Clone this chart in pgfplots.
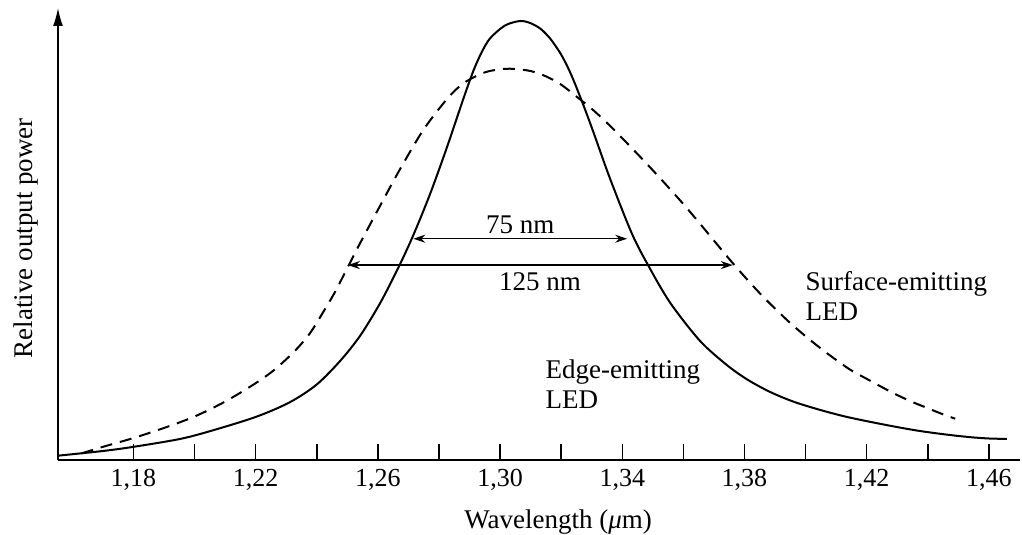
\documentclass[border=0pt]{standalone}
\usepackage{pgfplots}
\pgfplotsset{compat=1.18}
\usepackage{fontspec}
\setmainfont{Liberation Serif}
\usetikzlibrary{arrows.meta}
\begin{document}
\begin{tikzpicture}
\begin{axis}[
  name=ax,
  scale only axis,
  width=481pt, height=226pt,
  xmin=1.1553, xmax=1.4702,
  ymin=0, ymax=1.0296,
  axis x line=bottom, axis y line=left,
  x axis line style={-, line width=0.75pt},
  y axis line style={-{Latex[length=9pt,width=5pt]}, line width=0.75pt},
  xtick={1.18,1.20,1.22,1.24,1.26,1.28,1.30,1.32,1.34,1.36,1.38,1.40,1.42,1.44,1.46},
  xticklabels={{1,18},{},{1,22},{},{1,26},{},{1,30},{},{1,34},{},{1,38},{},{1,42},{},{1,46}},
  ytick=\empty,
  tick align=inside,
  major tick length=8pt,
  tick style={line width=0.75pt, black},
  xticklabel style={font=\fontsize{13}{15}\selectfont, yshift=-1pt},
  xlabel={Wavelength ({\itshape μ}m)},
  xlabel style={at={(axis description cs:0.5198,0)}, anchor=base, yshift=-34pt, font=\fontsize{13.5}{15}\selectfont},
  ylabel={Relative output power},
  ylabel style={at={(axis description cs:-0.027,0.491)}, anchor=base, font=\fontsize{13.5}{15}\selectfont},
  clip=false,
]
% Edge-emitting LED (solid)
\addplot[black, line width=1pt, smooth] coordinates {
(1.1555,0.010) (1.1700,0.0205) (1.1800,0.030) (1.1953,0.048) (1.2062,0.068)
(1.2204,0.099) (1.2313,0.132) (1.2400,0.172) (1.2477,0.226) (1.2542,0.283)
(1.2608,0.358) (1.2667,0.438) (1.2716,0.512) (1.2771,0.606) (1.2826,0.712)
(1.2880,0.823) (1.2913,0.887) (1.2940,0.929) (1.2968,0.961) (1.3017,0.990)
(1.3066,1.000) (1.3100,0.995) (1.3133,0.982) (1.3164,0.960) (1.3197,0.927)
(1.3220,0.897) (1.3240,0.866) (1.3273,0.808) (1.3306,0.746) (1.3360,0.641)
(1.3432,0.515) (1.3486,0.442) (1.3557,0.358) (1.3655,0.271) (1.3743,0.216)
(1.3810,0.183) (1.3884,0.155) (1.3960,0.133) (1.4048,0.114) (1.4130,0.099)
(1.4211,0.087) (1.4300,0.075) (1.4375,0.066) (1.4460,0.058) (1.4539,0.052)
(1.4600,0.049) (1.4659,0.048)
};
% Surface-emitting LED (dashed)
\addplot[black, line width=1pt, smooth, dash pattern=on 6pt off 4pt] coordinates {
(1.1630,0.015) (1.1700,0.030) (1.1800,0.050) (1.1900,0.073) (1.2000,0.099)
(1.2100,0.133) (1.2200,0.175) (1.2264,0.207) (1.2329,0.249) (1.2378,0.289)
(1.2422,0.338) (1.2460,0.383) (1.2502,0.440) (1.2542,0.494) (1.2608,0.580)
(1.2673,0.663) (1.2749,0.752) (1.2826,0.822) (1.2880,0.858) (1.2946,0.882)
(1.3000,0.890) (1.3044,0.891) (1.3100,0.886) (1.3150,0.874) (1.3200,0.855)
(1.3250,0.828) (1.3300,0.800) (1.3350,0.768) (1.3400,0.733) (1.3450,0.697)
(1.3500,0.660) (1.3550,0.622) (1.3600,0.583) (1.3650,0.542) (1.3700,0.500)
(1.3750,0.458) (1.3800,0.418) (1.3850,0.380) (1.3900,0.345) (1.3950,0.312)
(1.4000,0.282) (1.4050,0.254) (1.4100,0.228) (1.4150,0.204) (1.4200,0.185)
(1.4250,0.166) (1.4300,0.148) (1.4350,0.132) (1.4400,0.118) (1.4450,0.104)
(1.4490,0.094)
};
% width markers
\addplot[black, line width=0.6pt, {Stealth[length=6pt,width=4pt]}-{Stealth[length=6pt,width=4pt]}] coordinates {(1.2716,0.504) (1.3416,0.504)};
\addplot[black, line width=0.6pt, {Stealth[length=6pt,width=4pt]}-{Stealth[length=6pt,width=4pt]}] coordinates {(1.2502,0.444) (1.3762,0.444)};
\node[anchor=base, font=\fontsize{13.5}{15}\selectfont, inner sep=0pt] at (axis cs:1.3066,0.517) {75 nm};
\node[anchor=base, font=\fontsize{13.5}{15}\selectfont, inner sep=0pt] at (axis cs:1.3131,0.387) {125 nm};
\node[anchor=north west, align=left, font=\fontsize{13.5}{15}\selectfont, inner sep=0pt] at (axis cs:1.3999,0.4305) {Surface-emitting\\LED};
\node[anchor=north west, align=left, font=\fontsize{13.5}{15}\selectfont, inner sep=0pt] at (axis cs:1.3148,0.230) {Edge-emitting\\LED};
\end{axis}
\pgfresetboundingbox
\path ([shift={(-29pt,-37.5pt)}]ax.south west) rectangle ([shift={(482pt,230pt)}]ax.south west);
\end{tikzpicture}
\end{document}
